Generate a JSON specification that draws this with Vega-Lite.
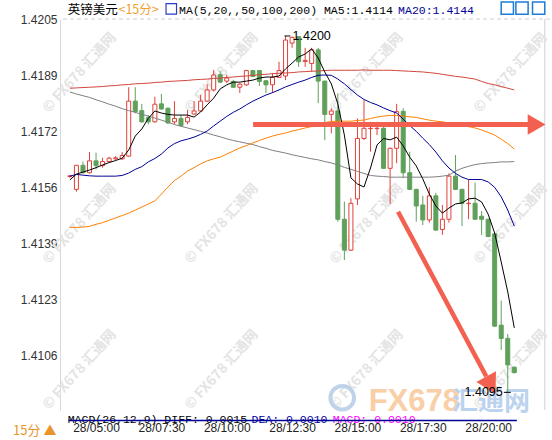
{
"$schema": "https://vega.github.io/schema/vega-lite/v6.json",
"width": 490, "height": 391,
"autosize": {"type": "none"},
"padding": {"left": 60, "top": 19, "right": 2, "bottom": 30},
"background": "#ffffff",
"config": {"view": {"stroke": null}, "font": "Liberation Sans"},
"datasets": {
"one": [{}],
"k": [
{"t":"2021-05-28T04:00:00Z","o":1.41586,"h":1.41590,"l":1.41582,"c":1.41588,"ma5":1.41576,"ma20":1.41587,"ma50":1.41436,"ma100":1.41835,"ma200":1.41846},
{"t":"2021-05-28T04:15:00Z","o":1.41548,"h":1.41620,"l":1.41541,"c":1.41619,"ma5":1.41593,"ma20":1.41592,"ma50":1.41436,"ma100":1.41829,"ma200":1.41847},
{"t":"2021-05-28T04:30:00Z","o":1.41619,"h":1.41630,"l":1.41595,"c":1.41597,"ma5":1.41599,"ma20":1.41590,"ma50":1.41437,"ma100":1.41824,"ma200":1.41848},
{"t":"2021-05-28T04:45:00Z","o":1.41597,"h":1.41658,"l":1.41595,"c":1.41632,"ma5":1.41605,"ma20":1.41588,"ma50":1.41439,"ma100":1.41819,"ma200":1.41849},
{"t":"2021-05-28T05:00:00Z","o":1.41632,"h":1.41656,"l":1.41607,"c":1.41618,"ma5":1.41612,"ma20":1.41587,"ma50":1.41445,"ma100":1.41812,"ma200":1.41850},
{"t":"2021-05-28T05:15:00Z","o":1.41618,"h":1.41641,"l":1.41612,"c":1.41630,"ma5":1.41620,"ma20":1.41587,"ma50":1.41450,"ma100":1.41806,"ma200":1.41851},
{"t":"2021-05-28T05:30:00Z","o":1.41630,"h":1.41644,"l":1.41628,"c":1.41640,"ma5":1.41627,"ma20":1.41587,"ma50":1.41457,"ma100":1.41799,"ma200":1.41853},
{"t":"2021-05-28T05:45:00Z","o":1.41638,"h":1.41646,"l":1.41634,"c":1.41641,"ma5":1.41633,"ma20":1.41587,"ma50":1.41464,"ma100":1.41793,"ma200":1.41854},
{"t":"2021-05-28T06:00:00Z","o":1.41638,"h":1.41658,"l":1.41635,"c":1.41648,"ma5":1.41640,"ma20":1.41589,"ma50":1.41471,"ma100":1.41786,"ma200":1.41856},
{"t":"2021-05-28T06:15:00Z","o":1.41646,"h":1.41849,"l":1.41644,"c":1.41808,"ma5":1.41664,"ma20":1.41596,"ma50":1.41478,"ma100":1.41780,"ma200":1.41857},
{"t":"2021-05-28T06:30:00Z","o":1.41808,"h":1.41849,"l":1.41772,"c":1.41777,"ma5":1.41705,"ma20":1.41607,"ma50":1.41487,"ma100":1.41775,"ma200":1.41859},
{"t":"2021-05-28T06:45:00Z","o":1.41780,"h":1.41800,"l":1.41745,"c":1.41747,"ma5":1.41726,"ma20":1.41615,"ma50":1.41496,"ma100":1.41769,"ma200":1.41860},
{"t":"2021-05-28T07:00:00Z","o":1.41760,"h":1.41767,"l":1.41740,"c":1.41747,"ma5":1.41757,"ma20":1.41629,"ma50":1.41505,"ma100":1.41764,"ma200":1.41861},
{"t":"2021-05-28T07:15:00Z","o":1.41747,"h":1.41821,"l":1.41745,"c":1.41799,"ma5":1.41779,"ma20":1.41639,"ma50":1.41514,"ma100":1.41758,"ma200":1.41863},
{"t":"2021-05-28T07:30:00Z","o":1.41800,"h":1.41829,"l":1.41782,"c":1.41785,"ma5":1.41773,"ma20":1.41652,"ma50":1.41534,"ma100":1.41752,"ma200":1.41864},
{"t":"2021-05-28T07:45:00Z","o":1.41787,"h":1.41789,"l":1.41740,"c":1.41744,"ma5":1.41769,"ma20":1.41670,"ma50":1.41555,"ma100":1.41746,"ma200":1.41866},
{"t":"2021-05-28T08:00:00Z","o":1.41747,"h":1.41808,"l":1.41740,"c":1.41757,"ma5":1.41767,"ma20":1.41683,"ma50":1.41574,"ma100":1.41739,"ma200":1.41867},
{"t":"2021-05-28T08:15:00Z","o":1.41757,"h":1.41767,"l":1.41734,"c":1.41736,"ma5":1.41767,"ma20":1.41691,"ma50":1.41587,"ma100":1.41734,"ma200":1.41868},
{"t":"2021-05-28T08:30:00Z","o":1.41747,"h":1.41782,"l":1.41740,"c":1.41760,"ma5":1.41767,"ma20":1.41696,"ma50":1.41602,"ma100":1.41729,"ma200":1.41869},
{"t":"2021-05-28T08:45:00Z","o":1.41770,"h":1.41808,"l":1.41768,"c":1.41779,"ma5":1.41761,"ma20":1.41702,"ma50":1.41612,"ma100":1.41724,"ma200":1.41871},
{"t":"2021-05-28T09:00:00Z","o":1.41779,"h":1.41826,"l":1.41777,"c":1.41808,"ma5":1.41776,"ma20":1.41710,"ma50":1.41623,"ma100":1.41719,"ma200":1.41872},
{"t":"2021-05-28T09:15:00Z","o":1.41808,"h":1.41858,"l":1.41806,"c":1.41841,"ma5":1.41797,"ma20":1.41720,"ma50":1.41632,"ma100":1.41714,"ma200":1.41873},
{"t":"2021-05-28T09:30:00Z","o":1.41841,"h":1.41900,"l":1.41836,"c":1.41885,"ma5":1.41817,"ma20":1.41735,"ma50":1.41638,"ma100":1.41708,"ma200":1.41875},
{"t":"2021-05-28T09:45:00Z","o":1.41886,"h":1.41896,"l":1.41861,"c":1.41864,"ma5":1.41844,"ma20":1.41749,"ma50":1.41643,"ma100":1.41703,"ma200":1.41876},
{"t":"2021-05-28T10:00:00Z","o":1.41867,"h":1.41886,"l":1.41861,"c":1.41876,"ma5":1.41856,"ma20":1.41763,"ma50":1.41652,"ma100":1.41697,"ma200":1.41878},
{"t":"2021-05-28T10:15:00Z","o":1.41866,"h":1.41871,"l":1.41847,"c":1.41849,"ma5":1.41864,"ma20":1.41775,"ma50":1.41661,"ma100":1.41692,"ma200":1.41879},
{"t":"2021-05-28T10:30:00Z","o":1.41849,"h":1.41861,"l":1.41832,"c":1.41858,"ma5":1.41864,"ma20":1.41785,"ma50":1.41670,"ma100":1.41688,"ma200":1.41881},
{"t":"2021-05-28T10:45:00Z","o":1.41856,"h":1.41900,"l":1.41853,"c":1.41898,"ma5":1.41867,"ma20":1.41797,"ma50":1.41677,"ma100":1.41684,"ma200":1.41882},
{"t":"2021-05-28T11:00:00Z","o":1.41898,"h":1.41900,"l":1.41879,"c":1.41881,"ma5":1.41870,"ma20":1.41808,"ma50":1.41685,"ma100":1.41680,"ma200":1.41884},
{"t":"2021-05-28T11:15:00Z","o":1.41898,"h":1.41898,"l":1.41853,"c":1.41866,"ma5":1.41876,"ma20":1.41817,"ma50":1.41692,"ma100":1.41674,"ma200":1.41886},
{"t":"2021-05-28T11:30:00Z","o":1.41868,"h":1.41870,"l":1.41832,"c":1.41856,"ma5":1.41879,"ma20":1.41826,"ma50":1.41699,"ma100":1.41669,"ma200":1.41887},
{"t":"2021-05-28T11:45:00Z","o":1.41856,"h":1.41891,"l":1.41832,"c":1.41878,"ma5":1.41879,"ma20":1.41833,"ma50":1.41705,"ma100":1.41663,"ma200":1.41889},
{"t":"2021-05-28T12:00:00Z","o":1.41878,"h":1.41924,"l":1.41876,"c":1.41898,"ma5":1.41882,"ma20":1.41841,"ma50":1.41710,"ma100":1.41659,"ma200":1.41890},
{"t":"2021-05-28T12:15:00Z","o":1.41882,"h":1.42000,"l":1.41870,"c":1.41988,"ma5":1.41903,"ma20":1.41850,"ma50":1.41714,"ma100":1.41655,"ma200":1.41891},
{"t":"2021-05-28T12:30:00Z","o":1.41979,"h":1.41998,"l":1.41965,"c":1.41996,"ma5":1.41920,"ma20":1.41857,"ma50":1.41720,"ma100":1.41650,"ma200":1.41892},
{"t":"2021-05-28T12:45:00Z","o":1.41998,"h":1.41999,"l":1.41909,"c":1.41924,"ma5":1.41938,"ma20":1.41864,"ma50":1.41724,"ma100":1.41646,"ma200":1.41894},
{"t":"2021-05-28T13:00:00Z","o":1.41925,"h":1.41965,"l":1.41909,"c":1.41928,"ma5":1.41947,"ma20":1.41870,"ma50":1.41729,"ma100":1.41642,"ma200":1.41895},
{"t":"2021-05-28T13:15:00Z","o":1.41919,"h":1.41965,"l":1.41895,"c":1.41959,"ma5":1.41962,"ma20":1.41878,"ma50":1.41733,"ma100":1.41638,"ma200":1.41896},
{"t":"2021-05-28T13:30:00Z","o":1.41959,"h":1.41965,"l":1.41802,"c":1.41867,"ma5":1.41935,"ma20":1.41884,"ma50":1.41739,"ma100":1.41635,"ma200":1.41897},
{"t":"2021-05-28T13:45:00Z","o":1.41867,"h":1.41868,"l":1.41693,"c":1.41769,"ma5":1.41894,"ma20":1.41885,"ma50":1.41745,"ma100":1.41630,"ma200":1.41898},
{"t":"2021-05-28T14:00:00Z","o":1.41769,"h":1.41787,"l":1.41713,"c":1.41779,"ma5":1.41859,"ma20":1.41884,"ma50":1.41748,"ma100":1.41626,"ma200":1.41899},
{"t":"2021-05-28T14:15:00Z","o":1.41779,"h":1.41831,"l":1.41453,"c":1.41460,"ma5":1.41800,"ma20":1.41873,"ma50":1.41749,"ma100":1.41620,"ma200":1.41899},
{"t":"2021-05-28T14:30:00Z","o":1.41460,"h":1.41512,"l":1.41340,"c":1.41369,"ma5":1.41708,"ma20":1.41859,"ma50":1.41749,"ma100":1.41613,"ma200":1.41899},
{"t":"2021-05-28T14:45:00Z","o":1.41369,"h":1.41522,"l":1.41367,"c":1.41507,"ma5":1.41582,"ma20":1.41842,"ma50":1.41749,"ma100":1.41607,"ma200":1.41899},
{"t":"2021-05-28T15:00:00Z","o":1.41520,"h":1.41757,"l":1.41502,"c":1.41698,"ma5":1.41564,"ma20":1.41826,"ma50":1.41751,"ma100":1.41601,"ma200":1.41899},
{"t":"2021-05-28T15:15:00Z","o":1.41698,"h":1.41811,"l":1.41693,"c":1.41728,"ma5":1.41555,"ma20":1.41813,"ma50":1.41752,"ma100":1.41595,"ma200":1.41900},
{"t":"2021-05-28T15:30:00Z","o":1.41727,"h":1.41747,"l":1.41659,"c":1.41728,"ma5":1.41611,"ma20":1.41804,"ma50":1.41757,"ma100":1.41589,"ma200":1.41899},
{"t":"2021-05-28T15:45:00Z","o":1.41727,"h":1.41747,"l":1.41708,"c":1.41728,"ma5":1.41679,"ma20":1.41797,"ma50":1.41761,"ma100":1.41587,"ma200":1.41899},
{"t":"2021-05-28T16:00:00Z","o":1.41728,"h":1.41738,"l":1.41608,"c":1.41610,"ma5":1.41698,"ma20":1.41788,"ma50":1.41764,"ma100":1.41586,"ma200":1.41899},
{"t":"2021-05-28T16:15:00Z","o":1.41610,"h":1.41671,"l":1.41505,"c":1.41669,"ma5":1.41694,"ma20":1.41780,"ma50":1.41766,"ma100":1.41584,"ma200":1.41899},
{"t":"2021-05-28T16:30:00Z","o":1.41669,"h":1.41800,"l":1.41625,"c":1.41777,"ma5":1.41702,"ma20":1.41773,"ma50":1.41766,"ma100":1.41584,"ma200":1.41898},
{"t":"2021-05-28T16:45:00Z","o":1.41778,"h":1.41787,"l":1.41581,"c":1.41597,"ma5":1.41676,"ma20":1.41755,"ma50":1.41764,"ma100":1.41584,"ma200":1.41897},
{"t":"2021-05-28T17:00:00Z","o":1.41597,"h":1.41659,"l":1.41546,"c":1.41548,"ma5":1.41643,"ma20":1.41736,"ma50":1.41762,"ma100":1.41584,"ma200":1.41896},
{"t":"2021-05-28T17:15:00Z","o":1.41548,"h":1.41550,"l":1.41453,"c":1.41499,"ma5":1.41617,"ma20":1.41719,"ma50":1.41760,"ma100":1.41584,"ma200":1.41895},
{"t":"2021-05-28T17:30:00Z","o":1.41502,"h":1.41529,"l":1.41443,"c":1.41458,"ma5":1.41579,"ma20":1.41699,"ma50":1.41756,"ma100":1.41584,"ma200":1.41894},
{"t":"2021-05-28T17:45:00Z","o":1.41458,"h":1.41554,"l":1.41450,"c":1.41529,"ma5":1.41534,"ma20":1.41680,"ma50":1.41752,"ma100":1.41584,"ma200":1.41892},
{"t":"2021-05-28T18:00:00Z","o":1.41529,"h":1.41538,"l":1.41426,"c":1.41428,"ma5":1.41499,"ma20":1.41658,"ma50":1.41749,"ma100":1.41585,"ma200":1.41890},
{"t":"2021-05-28T18:15:00Z","o":1.41430,"h":1.41502,"l":1.41414,"c":1.41460,"ma5":1.41478,"ma20":1.41632,"ma50":1.41747,"ma100":1.41587,"ma200":1.41887},
{"t":"2021-05-28T18:30:00Z","o":1.41460,"h":1.41595,"l":1.41450,"c":1.41587,"ma5":1.41493,"ma20":1.41611,"ma50":1.41744,"ma100":1.41590,"ma200":1.41884},
{"t":"2021-05-28T18:45:00Z","o":1.41587,"h":1.41649,"l":1.41546,"c":1.41548,"ma5":1.41505,"ma20":1.41595,"ma50":1.41741,"ma100":1.41602,"ma200":1.41881},
{"t":"2021-05-28T19:00:00Z","o":1.41548,"h":1.41550,"l":1.41440,"c":1.41507,"ma5":1.41508,"ma20":1.41584,"ma50":1.41738,"ma100":1.41610,"ma200":1.41879},
{"t":"2021-05-28T19:15:00Z","o":1.41506,"h":1.41576,"l":1.41460,"c":1.41507,"ma5":1.41520,"ma20":1.41577,"ma50":1.41733,"ma100":1.41616,"ma200":1.41876},
{"t":"2021-05-28T19:30:00Z","o":1.41507,"h":1.41568,"l":1.41458,"c":1.41460,"ma5":1.41522,"ma20":1.41577,"ma50":1.41729,"ma100":1.41621,"ma200":1.41873},
{"t":"2021-05-28T19:45:00Z","o":1.41469,"h":1.41484,"l":1.41414,"c":1.41460,"ma5":1.41511,"ma20":1.41577,"ma50":1.41723,"ma100":1.41624,"ma200":1.41866},
{"t":"2021-05-28T20:00:00Z","o":1.41460,"h":1.41462,"l":1.41407,"c":1.41409,"ma5":1.41475,"ma20":1.41570,"ma50":1.41716,"ma100":1.41626,"ma200":1.41860},
{"t":"2021-05-28T20:15:00Z","o":1.41417,"h":1.41420,"l":1.41143,"c":1.41145,"ma5":1.41419,"ma20":1.41554,"ma50":1.41708,"ma100":1.41627,"ma200":1.41856},
{"t":"2021-05-28T20:30:00Z","o":1.41148,"h":1.41220,"l":1.41075,"c":1.41109,"ma5":1.41334,"ma20":1.41526,"ma50":1.41696,"ma100":1.41629,"ma200":1.41851},
{"t":"2021-05-28T20:45:00Z","o":1.41109,"h":1.41122,"l":1.40950,"c":1.41031,"ma5":1.41246,"ma20":1.41487,"ma50":1.41683,"ma100":1.41629,"ma200":1.41846},
{"t":"2021-05-28T21:00:00Z","o":1.41024,"h":1.41026,"l":1.41006,"c":1.41008,"ma5":1.41140,"ma20":1.41440,"ma50":1.41667,"ma100":1.41630,"ma200":1.41841}
],
"wm": [
{"t":"2021-05-28T04:22:29Z","p":1.41891},{"t":"2021-05-28T09:48:32Z","p":1.41891},{"t":"2021-05-28T15:21:20Z","p":1.41891},{"t":"2021-05-28T20:51:52Z","p":1.41891},
{"t":"2021-05-28T04:22:29Z","p":1.41446},{"t":"2021-05-28T09:48:32Z","p":1.41446},{"t":"2021-05-28T15:21:20Z","p":1.41446},{"t":"2021-05-28T20:51:52Z","p":1.41446},
{"t":"2021-05-28T04:22:29Z","p":1.41016},{"t":"2021-05-28T09:48:32Z","p":1.41016},{"t":"2021-05-28T15:21:20Z","p":1.41016},{"t":"2021-05-28T20:51:52Z","p":1.41016}
]
},
"data": {"name": "k"},
"layer": [
{"data": {"name": "one"}, "mark": {"type": "rule", "stroke": "#d0d0d0", "strokeDash": [4, 3]},
 "encoding": {"y": {"datum": 1.4205, "type": "quantitative"}}},
{"data": {"name": "one"}, "mark": {"type": "rule", "stroke": "#d0d0d0"},
 "encoding": {"x": {"datum": {"year":2021,"month":5,"date":28,"hours":22,"minutes":10,"seconds":0,"utc":true}, "type": "temporal", "scale": {"type": "utc"}}}},
{"data": {"name": "wm"},
 "mark": {"type": "text", "text": "© FX678 汇通网", "angle": -48, "fontSize": 14, "fontWeight": "bold", "font": "Noto Sans CJK SC", "fill": "#e4e4e4", "align": "center", "baseline": "middle"},
 "encoding": {"x": {"field": "t", "type": "temporal", "scale": {"type": "utc"}}, "y": {"field": "p", "type": "quantitative"}}},
{"data": {"name": "one"}, "mark": {"type": "point", "shape": "circle", "filled": false, "stroke": "#b9cfe8", "strokeWidth": 4, "size": 560, "opacity": 0.9},
 "encoding": {"x": {"datum": {"year":2021,"month":5,"date":28,"hours":14,"minutes":25,"seconds":6,"utc":true}, "type": "temporal", "scale": {"type": "utc"}}, "y": {"datum": 1.40934, "type": "quantitative"}}},
{"data": {"name": "one"}, "mark": {"type": "text", "text": "FX678", "fontSize": 31, "fontWeight": "bold", "font": "Liberation Sans", "fill": "#f8cfa6", "align": "left", "baseline": "middle"},
 "encoding": {"x": {"datum": {"year":2021,"month":5,"date":28,"hours":15,"minutes":25,"seconds":48,"utc":true}, "type": "temporal", "scale": {"type": "utc"}}, "y": {"datum": 1.40922, "type": "quantitative"}}},
{"data": {"name": "one"}, "mark": {"type": "text", "text": "汇通网", "fontSize": 26, "fontWeight": "bold", "font": "Noto Sans CJK SC", "fill": "#bcd3ee", "align": "left", "baseline": "middle"},
 "encoding": {"x": {"datum": {"year":2021,"month":5,"date":28,"hours":18,"minutes":36,"seconds":57,"utc":true}, "type": "temporal", "scale": {"type": "utc"}}, "y": {"datum": 1.40922, "type": "quantitative"}}},
{"mark": {"type": "rule", "strokeWidth": 1},
 "encoding": {
  "x": {"field": "t", "type": "temporal",
        "scale": {"type": "utc", "nice": false, "domain": [{"year":2021,"month":5,"date":28,"hours":3,"minutes":48,"seconds":45,"utc":true}, {"year":2021,"month":5,"date":28,"hours":22,"minutes":10,"seconds":30,"utc":true}]},
        "axis": {"title": null, "domain": false, "ticks": false, "grid": false, "labelPadding": 12, "labelFontSize": 12, "labelColor": "#222222", "labelFont": "Liberation Sans", "labelFlush": false, "labelOverlap": false,
                 "values": [{"year":2021,"month":5,"date":28,"hours":5,"minutes":0,"utc":true},{"year":2021,"month":5,"date":28,"hours":7,"minutes":30,"utc":true},{"year":2021,"month":5,"date":28,"hours":10,"minutes":0,"utc":true},{"year":2021,"month":5,"date":28,"hours":12,"minutes":30,"utc":true},{"year":2021,"month":5,"date":28,"hours":15,"minutes":0,"utc":true},{"year":2021,"month":5,"date":28,"hours":17,"minutes":30,"utc":true},{"year":2021,"month":5,"date":28,"hours":20,"minutes":0,"utc":true}],
                 "labelExpr": "utcFormat(datum.value, '%d/%H:%M')"}},
  "y": {"field": "l", "type": "quantitative",
        "scale": {"domain": [1.40898, 1.4205], "zero": false, "nice": false},
        "axis": {"title": null, "grid": false, "ticks": false, "domainColor": "#d8d8d8", "labelPadding": 3, "labelFontSize": 12, "labelColor": "#333333", "labelFont": "Liberation Sans", "labelOverlap": false, "labelFlush": false,
                 "values": [1.4205, 1.41885, 1.4172, 1.41555, 1.4139, 1.41225, 1.4106],
                 "labelExpr": "format(datum.value + 0.000001, '.4f')"}},
  "y2": {"field": "h"},
  "color": {"condition": {"test": "datum.c >= datum.o", "value": "#e0413a"}, "value": "#5fa05a"}
 }},
{"mark": {"type": "bar", "size": 4, "strokeWidth": 1},
 "encoding": {
  "x": {"field": "t", "type": "temporal", "scale": {"type": "utc"}},
  "y": {"field": "o", "type": "quantitative"},
  "y2": {"field": "c"},
  "fill": {"condition": {"test": "datum.c >= datum.o", "value": "#ffffff"}, "value": "#5fa05a"},
  "stroke": {"condition": {"test": "datum.c >= datum.o", "value": "#e0413a"}, "value": "#5fa05a"}
 }},
{"transform": [{"fold": ["ma200", "ma100", "ma50", "ma20", "ma5"], "as": ["k", "v"]}],
 "mark": {"type": "line", "strokeWidth": 1},
 "encoding": {
  "x": {"field": "t", "type": "temporal", "scale": {"type": "utc"}},
  "y": {"field": "v", "type": "quantitative"},
  "color": {"field": "k", "type": "nominal", "legend": null,
            "scale": {"domain": ["ma200", "ma100", "ma50", "ma20", "ma5"], "range": ["#d2463c", "#808080", "#ff8000", "#000099", "#000000"]}}
 }},
{"data": {"name": "one"}, "mark": {"type": "rule", "stroke": "#f4604f", "strokeWidth": 5},
 "encoding": {"x": {"datum": {"year":2021,"month":5,"date":28,"hours":11,"minutes":0,"seconds":30,"utc":true}, "type": "temporal", "scale": {"type": "utc"}},
              "x2": {"datum": {"year":2021,"month":5,"date":28,"hours":21,"minutes":32,"seconds":18,"utc":true}},
              "y": {"datum": 1.41739, "type": "quantitative"}}},
{"data": {"name": "one"}, "mark": {"type": "point", "shape": "triangle-right", "filled": true, "fill": "#f4604f", "stroke": null, "size": 420, "opacity": 1},
 "encoding": {"x": {"datum": {"year":2021,"month":5,"date":28,"hours":21,"minutes":51,"seconds":12,"utc":true}, "type": "temporal", "scale": {"type": "utc"}},
              "y": {"datum": 1.41739, "type": "quantitative"}}},
{"data": {"name": "one"}, "mark": {"type": "rule", "stroke": "#f4604f", "strokeWidth": 4.5},
 "encoding": {"x": {"datum": {"year":2021,"month":5,"date":28,"hours":16,"minutes":33,"seconds":18,"utc":true}, "type": "temporal", "scale": {"type": "utc"}},
              "x2": {"datum": {"year":2021,"month":5,"date":28,"hours":19,"minutes":55,"seconds":42,"utc":true}},
              "y": {"datum": 1.41482, "type": "quantitative"},
              "y2": {"datum": 1.40997}}},
{"data": {"name": "one"}, "mark": {"type": "point", "shape": "triangle-right", "filled": true, "fill": "#f4604f", "stroke": null, "size": 500, "opacity": 1, "angle": 61.3},
 "encoding": {"x": {"datum": {"year":2021,"month":5,"date":28,"hours":20,"minutes":6,"seconds":12,"utc":true}, "type": "temporal", "scale": {"type": "utc"}},
              "y": {"datum": 1.40971, "type": "quantitative"}}},
{"data": {"name": "one"}, "mark": {"type": "rule", "stroke": "#000000", "strokeWidth": 1},
 "encoding": {"x": {"datum": {"year":2021,"month":5,"date":28,"hours":12,"minutes":12,"seconds":26,"utc":true}, "type": "temporal", "scale": {"type": "utc"}},
              "x2": {"datum": {"year":2021,"month":5,"date":28,"hours":12,"minutes":25,"seconds":56,"utc":true}},
              "y": {"datum": 1.42, "type": "quantitative"}}},
{"data": {"name": "one"}, "mark": {"type": "text", "text": "1.4200", "fontSize": 12.5, "font": "Liberation Sans", "fill": "#000000", "align": "left", "baseline": "middle", "dx": 7},
 "encoding": {"x": {"datum": {"year":2021,"month":5,"date":28,"hours":12,"minutes":15,"utc":true}, "type": "temporal", "scale": {"type": "utc"}},
              "y": {"datum": 1.42, "type": "quantitative"}}},
{"data": {"name": "one"}, "mark": {"type": "rule", "stroke": "#000000", "strokeWidth": 1},
 "encoding": {"x": {"datum": {"year":2021,"month":5,"date":28,"hours":20,"minutes":36,"seconds":0,"utc":true}, "type": "temporal", "scale": {"type": "utc"}},
              "x2": {"datum": {"year":2021,"month":5,"date":28,"hours":20,"minutes":52,"seconds":0,"utc":true}},
              "y": {"datum": 1.4095, "type": "quantitative"}}},
{"data": {"name": "one"}, "mark": {"type": "text", "text": "1.4095", "fontSize": 12.5, "font": "Liberation Sans", "fill": "#000000", "align": "right", "baseline": "middle", "dx": -5},
 "encoding": {"x": {"datum": {"year":2021,"month":5,"date":28,"hours":20,"minutes":45,"utc":true}, "type": "temporal", "scale": {"type": "utc"}},
              "y": {"datum": 1.4095, "type": "quantitative"}}},
{"data": {"name": "one"}, "mark": {"type": "text", "text": "英镑美元", "fontSize": 12.5, "font": "Noto Sans CJK SC", "fill": "#000000", "align": "left", "baseline": "alphabetic"},
 "encoding": {"x": {"datum": {"year":2021,"month":5,"date":28,"hours":3,"minutes":55,"utc":true}, "type": "temporal", "scale": {"type": "utc"}},
              "y": {"datum": 1.42066, "type": "quantitative"}}},
{"data": {"name": "one"}, "mark": {"type": "text", "text": "<15分>", "fontSize": 12.5, "font": "Noto Sans CJK SC", "fill": "#f0a030", "align": "left", "baseline": "alphabetic"},
 "encoding": {"x": {"datum": {"year":2021,"month":5,"date":28,"hours":5,"minutes":51,"seconds":30,"utc":true}, "type": "temporal", "scale": {"type": "utc"}},
              "y": {"datum": 1.42066, "type": "quantitative"}}},
{"data": {"name": "one"}, "mark": {"type": "point", "shape": "square", "filled": false, "stroke": "#2a3fc0", "strokeWidth": 1.2, "size": 110, "opacity": 1},
 "encoding": {"x": {"datum": {"year":2021,"month":5,"date":28,"hours":7,"minutes":52,"seconds":42,"utc":true}, "type": "temporal", "scale": {"type": "utc"}},
              "y": {"datum": 1.4208, "type": "quantitative"}}},
{"data": {"name": "one"}, "mark": {"type": "text", "text": "MA(5,20,,50,100,200) MA5:1.4114", "fontSize": 11.5, "font": "Liberation Mono", "fill": "#000000", "align": "left", "baseline": "alphabetic"},
 "encoding": {"x": {"datum": {"year":2021,"month":5,"date":28,"hours":8,"minutes":10,"seconds":30,"utc":true}, "type": "temporal", "scale": {"type": "utc"}},
              "y": {"datum": 1.42066, "type": "quantitative"}}},
{"data": {"name": "one"}, "mark": {"type": "text", "text": "MA20:1.4144", "fontSize": 11.5, "font": "Liberation Mono", "fill": "#000099", "align": "left", "baseline": "alphabetic"},
 "encoding": {"x": {"datum": {"year":2021,"month":5,"date":28,"hours":16,"minutes":33,"seconds":18,"utc":true}, "type": "temporal", "scale": {"type": "utc"}},
              "y": {"datum": 1.42066, "type": "quantitative"}}},
{"data": {"name": "one"}, "mark": {"type": "point", "shape": "square", "filled": false, "stroke": "#1c7cd6", "strokeWidth": 1.5, "size": 150, "opacity": 1},
 "encoding": {"x": {"datum": {"year":2021,"month":5,"date":28,"hours":20,"minutes":44,"utc":true}, "type": "temporal", "scale": {"type": "utc"}},
              "y": {"datum": 1.42082, "type": "quantitative"}}},
{"data": {"name": "one"}, "mark": {"type": "point", "shape": "square", "filled": false, "stroke": "#1c7cd6", "strokeWidth": 1.5, "size": 150, "opacity": 1},
 "encoding": {"x": {"datum": {"year":2021,"month":5,"date":28,"hours":21,"minutes":17,"seconds":42,"utc":true}, "type": "temporal", "scale": {"type": "utc"}},
              "y": {"datum": 1.42082, "type": "quantitative"}}},
{"data": {"name": "one"}, "mark": {"type": "point", "shape": "square", "filled": false, "stroke": "#1c7cd6", "strokeWidth": 1.5, "size": 150, "opacity": 1},
 "encoding": {"x": {"datum": {"year":2021,"month":5,"date":28,"hours":21,"minutes":55,"seconds":54,"utc":true}, "type": "temporal", "scale": {"type": "utc"}},
              "y": {"datum": 1.42082, "type": "quantitative"}}},
{"data": {"name": "one"}, "mark": {"type": "text", "text": "MACD(26,12,9) DIFF:-0.0015", "fontSize": 11.5, "font": "Liberation Mono", "fill": "#000000", "align": "left", "baseline": "middle"},
 "encoding": {"x": {"datum": {"year":2021,"month":5,"date":28,"hours":3,"minutes":55,"utc":true}, "type": "temporal", "scale": {"type": "utc"}},
              "y": {"datum": 1.40868, "type": "quantitative"}}},
{"data": {"name": "one"}, "mark": {"type": "text", "text": "DEA:-0.0010", "fontSize": 11.5, "font": "Liberation Mono", "fill": "#000099", "align": "left", "baseline": "middle"},
 "encoding": {"x": {"datum": {"year":2021,"month":5,"date":28,"hours":10,"minutes":56,"seconds":54,"utc":true}, "type": "temporal", "scale": {"type": "utc"}},
              "y": {"datum": 1.40868, "type": "quantitative"}}},
{"data": {"name": "one"}, "mark": {"type": "text", "text": "MACD:-0.0010", "fontSize": 11.5, "font": "Liberation Mono", "fill": "#ff00ff", "align": "left", "baseline": "middle"},
 "encoding": {"x": {"datum": {"year":2021,"month":5,"date":28,"hours":14,"minutes":3,"seconds":18,"utc":true}, "type": "temporal", "scale": {"type": "utc"}},
              "y": {"datum": 1.40868, "type": "quantitative"}}},
{"data": {"name": "one"}, "mark": {"type": "rule", "stroke": "#000099", "strokeWidth": 1.5},
 "encoding": {"x": {"datum": {"year":2021,"month":5,"date":28,"hours":3,"minutes":56,"seconds":36,"utc":true}, "type": "temporal", "scale": {"type": "utc"}},
              "x2": {"datum": {"year":2021,"month":5,"date":28,"hours":21,"minutes":6,"utc":true}},
              "y": {"datum": 1.40867, "type": "quantitative"}}},
{"data": {"name": "one"}, "mark": {"type": "text", "text": "15分 ▲", "fontSize": 13, "font": "Noto Sans CJK SC", "fill": "#e8962a", "align": "left", "baseline": "middle"},
 "encoding": {"x": {"datum": {"year":2021,"month":5,"date":28,"hours":1,"minutes":49,"seconds":36,"utc":true}, "type": "temporal", "scale": {"type": "utc"}},
              "y": {"datum": 1.40836, "type": "quantitative"}}}
]
}
